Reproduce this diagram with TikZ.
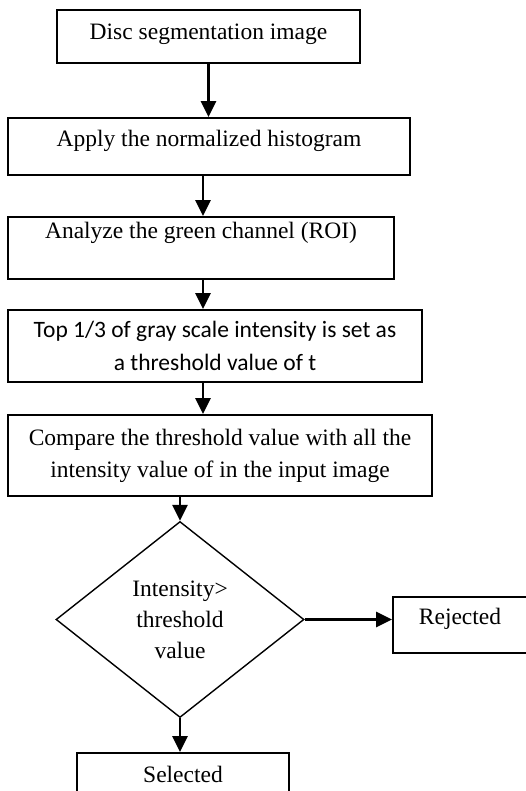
\documentclass[tikz,border=0pt]{standalone}
\usepackage{fontspec}
\setmainfont{Liberation Serif}
\newfontfamily\calibrifont{Carlito}
\usetikzlibrary{shapes.geometric,arrows.meta}
\tikzset{
    procbox/.style={draw, line width=1.9pt, rectangle, inner sep=0pt, align=center,
                    font=\fontsize{23.5}{32}\selectfont},
    onebox/.style={procbox, text height=16pt},
    decidebox/.style={draw, line width=1.4pt, diamond, aspect=1.27, inner sep=0pt, align=center,
                    minimum width=248pt, minimum height=196pt,
                    font=\fontsize{23.5}{31}\selectfont},
    flowarrow/.style={line width=2.6pt, -{Triangle[length=16pt,width=15pt]}}
}
\begin{document}
\begin{tikzpicture}[x=1pt,y=-1pt]
                        % \helpgrid{3}{3}
                        \useasboundingbox [fill=white] (0,0) rectangle (525,791);
                        \node (disc) at (208.5,36.5) [onebox, minimum width=303pt, minimum height=53pt, text depth=10.8pt] {Disc segmentation image};
                        \node (hist) at (209,146.5) [onebox, minimum width=402pt, minimum height=57pt, text depth=16pt] {Apply the normalized histogram};
                        \node (green) at (201,248) [onebox, minimum width=386pt, minimum height=62pt, text depth=34pt] {Analyze the green channel (ROI)};
                        \node (thresh) at (215,346) [procbox, minimum width=414pt, minimum height=72pt, font=\calibrifont\fontsize{23.5}{33}\selectfont] {Top 1/3 of gray scale intensity is set as\\a threshold value of t};
                        \node (compare) at (220,455.5) [procbox, minimum width=424pt, minimum height=81pt] {Compare the threshold value with all the\\intensity value of in the input image};
                        \node (decide) at (180,619.5) [decidebox] {Intensity>\\threshold\\value};
                        \node (reject) at (460,625) [onebox, minimum width=134pt, minimum height=56pt, text depth=17pt] {Rejected};
                        \node (select) at (183,782) [onebox, minimum width=212pt, minimum height=58pt, text depth=16pt] {Selected};
                        \draw [flowarrow] (disc.south) -- (disc.south |- hist.north);
                        \draw [flowarrow] ([xshift=-6pt]hist.south) -- ([xshift=-6pt]hist.south |- green.north);
                        \draw [flowarrow] ([xshift=2pt]green.south) -- ([xshift=2pt]green.south |- thresh.north);
                        \draw [flowarrow] ([xshift=-12pt]thresh.south) -- ([xshift=-12pt]thresh.south |- compare.north);
                        \draw [flowarrow] (compare.south -| decide.north) -- (decide.north);
                        \draw [flowarrow] (decide.east) -- (decide.east -| reject.west);
                        \draw [flowarrow] (decide.south) -- (decide.south |- select.north);
                    \end{tikzpicture}
\end{document}
